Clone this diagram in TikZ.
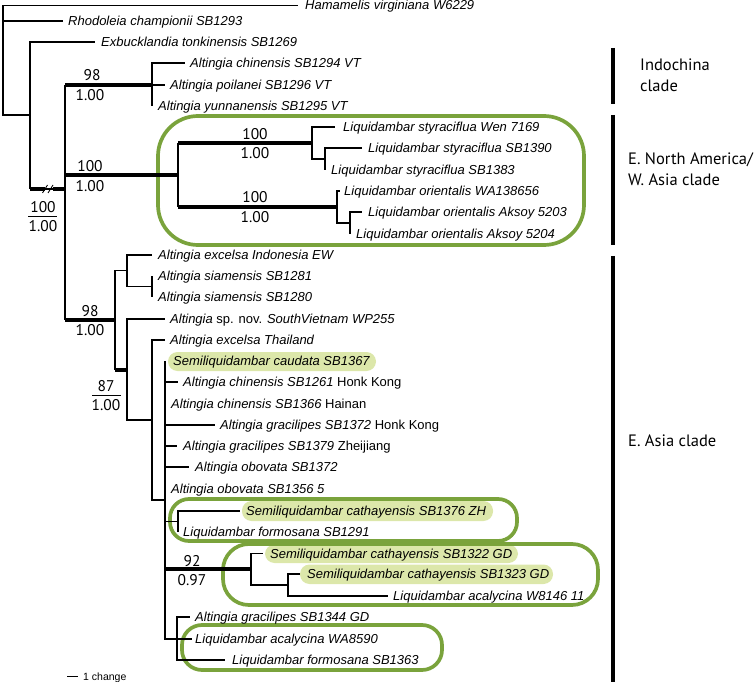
\documentclass[tikz,border=0pt]{standalone}
\usepackage{fontspec}
\setmainfont{PT Sans}
\newfontfamily\arialf{Liberation Sans}
\definecolor{boxgreen}{RGB}{122,163,60}
\definecolor{pillfill}{RGB}{220,231,170}
\tikzset{
  br/.style={line width=1.2pt},
  thk/.style={line width=4pt},
  tx/.style={font=\arialf\itshape\fontsize{13}{15}\selectfont, anchor=base west, inner sep=0pt},
  suplab/.style={font=\fontsize{15.5}{17}\selectfont, inner sep=0pt, anchor=center},
  cladelab/.style={font=\fontsize{16.5}{20}\selectfont, anchor=base west, inner sep=0pt},
  cbar/.style={line width=4pt},
  gbox/.style={draw=boxgreen, line width=3.7pt},
  pillbg/.style={fill=pillfill, rounded corners=9.5pt},
}
\newcommand\tipl[5]{\coordinate (e#1) at (#2,#4); \node[tx] (t#1) at (#3,#4+4.5) {#5};}
\newcommand\thinbr[2]{\draw[br] (#1) |- (#2);}
\newcommand\thkbr[2]{\draw[br] (#1) -- (#1 |- #2); \draw[thk] (#1 |- #2) -- (#2);}
\begin{document}
\begin{tikzpicture}[x=1pt,y=-1pt]
\useasboundingbox (0,0) rectangle (756,682);

% highlight pills
\fill[pillbg] (168,352) rectangle (376,371);
\fill[pillbg] (242,501) rectangle (493,521);
\fill[pillbg] (265,544.5) rectangle (518,563);
\fill[pillbg] (300,564.5) rectangle (553,584);

% green boxes
\draw[gbox, rounded corners=40pt] (158,116) rectangle (584,245);
\draw[gbox, rounded corners=19pt] (170,499) rectangle (517,541);
\draw[gbox, rounded corners=26pt] (223,544) rectangle (598,605);
\draw[gbox, rounded corners=20pt] (182,625) rectangle (442,670);

% internal nodes
\coordinate (r0) at (3,60);
\coordinate (n1) at (30,115);
\coordinate (n2) at (65,189);
\coordinate (nIndo) at (152,85);
\coordinate (nLiq) at (178,175);
\coordinate (nSty) at (312,143);
\coordinate (nSty2) at (325,159);
\coordinate (nOri) at (337,207);
\coordinate (nOri2) at (350,223);
\coordinate (nEA) at (115,320);
\coordinate (nA) at (127,270.5);
\coordinate (nSiam) at (152,286.5);
\coordinate (nB) at (127,370);
\coordinate (nC) at (152,420);
\coordinate (nP) at (165,500);
\coordinate (nBx1) at (178,521.5);
\coordinate (nG) at (251,569);
\coordinate (nG2) at (288,585);
\coordinate (nBx3) at (177,639);

% tips
\tipl{Ham}{298}{305}{5.5}{Hamamelis virginiana W6229}
\tipl{Rho}{63}{68}{21}{Rhodoleia championii SB1293}
\tipl{Exb}{95}{101}{42}{Exbucklandia tonkinensis SB1269}
\tipl{Ach}{185}{190}{63}{Altingia chinensis SB1294 VT}
\tipl{Apo}{165}{170}{85}{Altingia poilanei SB1296 VT}
\tipl{Ayu}{152}{158}{106}{Altingia yunnanensis SB1295 VT}
\tipl{LsW}{335}{343}{127}{Liquidambar styraciflua Wen 7169}
\tipl{LsA}{362}{368}{148}{Liquidambar styraciflua SB1390}
\tipl{LsB}{325}{331}{170}{Liquidambar styraciflua SB1383}
\tipl{LoW}{340}{344}{191}{Liquidambar orientalis WA138656}
\tipl{LoA}{362}{368}{212}{Liquidambar orientalis Aksoy 5203}
\tipl{LoB}{350}{356}{234}{Liquidambar orientalis Aksoy 5204}
\tipl{AeI}{152}{158}{255}{Altingia excelsa Indonesia EW}
\tipl{AsA}{152}{158}{276}{Altingia siamensis SB1281}
\tipl{AsB}{152}{158}{297}{Altingia siamensis SB1280}
\tipl{Asp}{165}{170}{319}{Altingia {\upshape sp. nov.} SouthVietnam WP255}
\tipl{AeT}{165}{170}{340}{Altingia excelsa Thailand}
\tipl{Sca}{165}{173}{361}{Semiliquidambar caudata SB1367}
\tipl{AcA}{178}{183}{382}{Altingia chinensis SB1261 {\upshape Honk Kong}}
\tipl{AcB}{165}{171}{404}{Altingia chinensis SB1366 {\upshape Hainan}}
\tipl{AgA}{215}{220}{425}{Altingia gracilipes SB1372 {\upshape Honk Kong}}
\tipl{AgB}{177}{183}{446}{Altingia gracilipes SB1379 {\upshape Zheijiang}}
\tipl{AoA}{189}{195}{467}{Altingia obovata SB1372}
\tipl{AoB}{165}{171}{489}{Altingia obovata SB1356 5}
\tipl{ScA}{240}{246}{511}{Semiliquidambar cathayensis SB1376 ZH}
\tipl{LfA}{178}{183}{532}{Liquidambar formosana SB1291}
\tipl{ScB}{263}{270}{553.5}{Semiliquidambar cathayensis SB1322 GD}
\tipl{ScC}{300}{307}{574}{Semiliquidambar cathayensis SB1323 GD}
\tipl{LaW}{388}{393}{596}{Liquidambar acalycina W8146 11}
\tipl{AgC}{190}{195}{617}{Altingia gracilipes SB1344 GD}
\tipl{LaA}{192}{195}{639}{Liquidambar acalycina WA8590}
\tipl{LfB}{225}{232}{660}{Liquidambar formosana SB1363}

% branches
\thinbr{r0}{eHam}
\thinbr{r0}{eRho}
\draw[br] (r0) |- (n1);
\thinbr{n1}{eExb}
\draw[br] (n1) -- (n1 |- n2);
\draw[thk] (n1 |- n2) -- ++(15,0);
\draw[br] (45,189) -- (53,189);
\draw[thk] (53,189) -- (n2);
\draw[line width=0.9pt] (42.5,193) -- (47.5,185) (48,193) -- (53,185);
\thkbr{n2}{nIndo}
\thkbr{n2}{nLiq}
\thkbr{n2}{nEA}
\thinbr{nIndo}{eAch}
\thinbr{nIndo}{eApo}
\thinbr{nIndo}{eAyu}
\thkbr{nLiq}{nSty}
\thkbr{nLiq}{nOri}
\thinbr{nSty}{eLsW}
\thinbr{nSty}{nSty2}
\thinbr{nSty2}{eLsA}
\thinbr{nSty2}{eLsB}
\thinbr{nOri}{eLoW}
\thinbr{nOri}{nOri2}
\thinbr{nOri2}{eLoA}
\thinbr{nOri2}{eLoB}
\thinbr{nEA}{nA}
\thkbr{nEA}{nB}
\thinbr{nA}{eAeI}
\thinbr{nA}{nSiam}
\thinbr{nSiam}{eAsA}
\thinbr{nSiam}{eAsB}
\thinbr{nB}{eAsp}
\thinbr{nB}{nC}
\thinbr{nC}{eAeT}
\thinbr{nC}{nP}
\thinbr{nP}{eSca}
\thinbr{nP}{eAcA}
\thinbr{nP}{eAcB}
\thinbr{nP}{eAgA}
\thinbr{nP}{eAgB}
\thinbr{nP}{eAoA}
\thinbr{nP}{eAoB}
\thinbr{nP}{nBx1}
\thkbr{nP}{nG}
\thinbr{nP}{nBx3}
\thinbr{nBx1}{eScA}
\thinbr{nBx1}{eLfA}
\thinbr{nG}{eScB}
\thinbr{nG}{nG2}
\thinbr{nG2}{eScC}
\thinbr{nG2}{eLaW}
\thinbr{nBx3}{eAgC}
\thinbr{nBx3}{eLaA}
\thinbr{nBx3}{eLfB}

% support values
\node[suplab] (s1a) at (92,75) {98};
\node[suplab] (s1b) at (90,95) {1.00};
\node[suplab] (s2a) at (90,166) {100};
\node[suplab] (s2b) at (90,186) {1.00};
\node[suplab] (s3a) at (255,134) {100};
\node[suplab] (s3b) at (255,153) {1.00};
\node[suplab] (s4a) at (255,197) {100};
\node[suplab] (s4b) at (255,217) {1.00};
\node[suplab] (s5a) at (43,207) {100};
\node[suplab] (s5b) at (43,226.5) {1.00};
\draw[line width=0.9pt] (28,216.5) -- (57,216.5);
\node[suplab] (s6a) at (90,311) {98};
\node[suplab] (s6b) at (90,330) {1.00};
\node[suplab] (s7a) at (106,386) {87};
\node[suplab] (s7b) at (106,405) {1.00};
\draw[line width=0.9pt] (92,395.5) -- (121,395.5);
\node[suplab] (s8a) at (192,561) {92};
\node[suplab] (s8b) at (192,580) {0.97};

% clade bars and labels
\coordinate (b1a) at (613,48); \coordinate (b1b) at (613,104);
\coordinate (b2a) at (613,115); \coordinate (b2b) at (613,245);
\coordinate (b3a) at (613,256); \coordinate (b3b) at (613,682);
\draw[cbar] (b1a) -- (b1b);
\draw[cbar] (b2a) -- (b2b);
\draw[cbar] (b3a) -- (b3b);
\node[cladelab] (c1a) at (640,71) {Indochina};
\node[cladelab] (c1b) at (640,92) {clade};
\node[cladelab] (c2a) at (628,165) {E. North America/};
\node[cladelab] (c2b) at (628,186) {W. Asia clade};
\node[cladelab] (c3) at (628,446) {E. Asia clade};

% scale bar
\coordinate (sbA) at (67,676);
\coordinate (sbB) at (78,676);
\draw[line width=0.8pt] (sbA) -- (sbB);
\node[font=\arialf\fontsize{10.5}{12}\selectfont, anchor=base west, inner sep=0pt] (sbl) at (83,680) {1 change};
\end{tikzpicture}
\end{document}
